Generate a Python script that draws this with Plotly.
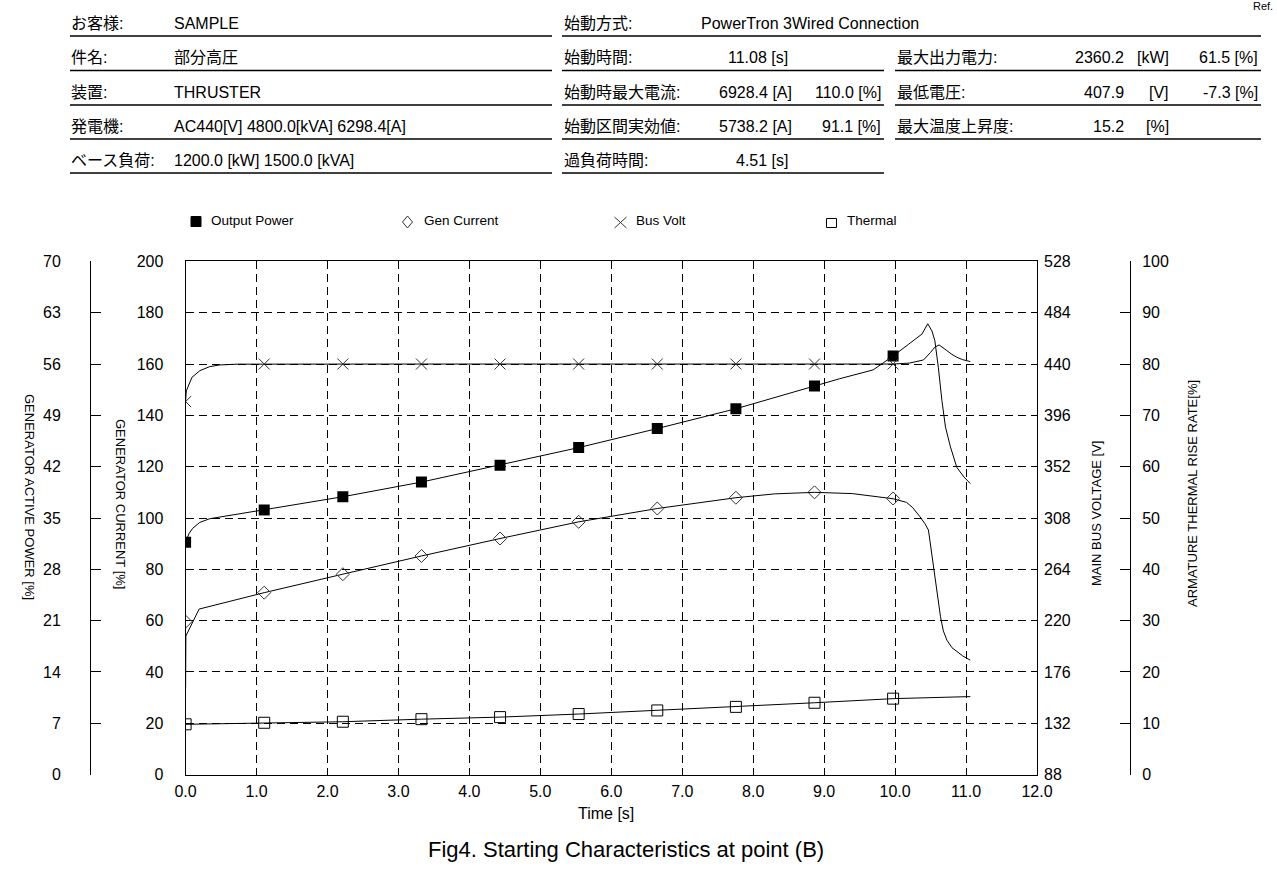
import plotly.graph_objects as go

W, H = 1277, 870
FONT = "Liberation Sans, Arial, Noto Sans CJK JP, sans-serif"

# ---------------- data ----------------
# Output power [%] (left outer axis 0-70)
t_power = [0, 0.05, 0.10, 0.20, 0.34, 1.108, 2.216, 3.324, 4.432, 5.540, 6.648, 7.756, 8.864,
           9.22, 9.69, 9.972, 10.19, 10.38, 10.46, 10.52, 10.56, 10.61, 10.66, 10.71, 10.78,
           10.87, 10.97, 11.06]
power = [31.8, 32.9, 33.6, 34.4, 34.9, 36.1, 37.9, 39.9, 42.2, 44.6, 47.2, 49.9, 53.0,
         54.0, 55.2, 57.1, 58.7, 60.1, 61.5, 60.5, 59.2, 55.5, 51.0, 47.4, 44.7,
         41.9, 40.6, 39.7]

# Generator current [%] (left inner axis 0-200)
t_current = [0, 0.004, 0.19, 1.108, 2.216, 3.324, 4.432, 5.540, 6.648, 7.756, 8.3, 8.864,
             9.4, 9.972, 10.16, 10.25, 10.35, 10.42, 10.47, 10.54, 10.58, 10.64, 10.68,
             10.73, 10.8, 10.87, 10.95, 11.06]
current = [33.7, 54.0, 64.5, 70.9, 78.1, 85.2, 92.0, 98.5, 103.7, 107.9, 109.4, 110.0,
           109.5, 107.5, 106.1, 104.0, 100.5, 97.8, 95.3, 81.0, 72.0, 61.5, 56.0,
           52.4, 49.5, 47.9, 46.3, 44.6]

# Main bus voltage [V] (right inner axis 88-528)
t_volt = [0, 0.01, 0.09, 0.20, 0.34, 0.48, 0.73, 1.108, 2.216, 3.324, 4.432, 5.540, 6.648,
          7.756, 8.864, 9.972, 10.2, 10.4, 10.5, 10.56, 10.62, 10.67, 10.73, 10.8, 10.87,
          10.95, 11.06]
volt = [407.8, 417.0, 428.6, 434.3, 437.8, 439.2, 439.9, 440.0, 440.0, 440.0, 440.0, 440.0,
        440.0, 440.0, 440.0, 440.0, 440.8, 443.5, 450.0, 454.5, 456.4, 454.5, 451.5, 448.3,
        445.8, 443.8, 442.1]

# Armature thermal rise rate [%] (right outer axis 0-100)
t_thermal = [0, 1.108, 2.216, 3.324, 4.432, 5.540, 6.648, 7.756, 8.864, 9.972, 11.06]
thermal = [9.8, 10.1, 10.3, 10.8, 11.2, 11.8, 12.5, 13.2, 14.0, 14.8, 15.2]

# Marker samples
t_markers = [0, 1.108, 2.216, 3.324, 4.432, 5.540, 6.648, 7.756, 8.864, 9.972]
power_markers = [31.7, 36.1, 37.9, 39.9, 42.2, 44.6, 47.2, 49.9, 53.0, 57.1]
current_markers = [59.6, 70.9, 78.1, 85.2, 92.0, 98.5, 103.7, 107.9, 110.0, 107.6]
volt_markers = [407.8, 440.0, 440.0, 440.0, 440.0, 440.0, 440.0, 440.0, 440.0, 440.0]
thermal_markers = [9.8, 10.1, 10.3, 10.8, 11.2, 11.8, 12.5, 13.2, 14.0, 14.8]

legend_names = ["Output Power", "Gen Current", "Bus Volt", "Thermal"]

header_left_labels = ["お客様:", "件名:", "装置:", "発電機:", "ベース負荷:"]
header_left_values = ["SAMPLE", "部分高圧", "THRUSTER", "AC440[V] 4800.0[kVA] 6298.4[A]",
                      "1200.0 [kW] 1500.0 [kVA]"]
header_mid_labels = ["始動方式:", "始動時間:", "始動時最大電流:", "始動区間実効値:", "過負荷時間:"]
header_mid_values1 = ["", "11.08 [s]", "6928.4 [A]", "5738.2 [A]", "4.51 [s]"]
header_mid_values2 = ["", "", "110.0 [%]", "91.1 [%]", ""]
start_method = "PowerTron 3Wired Connection"
header_right_labels = ["最大出力電力:", "最低電圧:", "最大温度上昇度:"]
header_right_values1 = ["2360.2", "407.9", "15.2"]
header_right_units1 = ["[kW]", "[V]", "[%]"]
header_right_values2 = ["61.5 [%]", "-7.3 [%]", ""]

ref_text = "Ref."
x_title = "Time [s]"
fig_title = "Fig4. Starting Characteristics at point (B)"
y_titles = ["GENERATOR ACTIVE POWER [%]", "GENERATOR CURRENT [%]",
            "MAIN BUS VOLTAGE [V]", "ARMATURE THERMAL RISE RATE[%]"]


# ---------------- helpers ----------------
def px(x):
    return x / W


def py(y):
    return 1 - y / H


annotations = []
shapes = []


def txt(x, y, s, anchor="left", size=16, angle=0):
    annotations.append(dict(x=px(x), y=py(y), xref="paper", yref="paper", text=s,
                            showarrow=False, xanchor=anchor, yanchor="middle",
                            textangle=angle, borderpad=0,
                            font=dict(size=size, family=FONT, color="black")))


def hline(x0, x1, y):
    shapes.append(dict(type="line", xref="paper", yref="paper", x0=px(x0), x1=px(x1),
                       y0=py(y), y1=py(y), line=dict(color="black", width=1.3)))


# ---------------- figure ----------------
fig = go.Figure()
LINE = dict(color="black", width=1)

fig.add_trace(go.Scatter(x=t_power, y=power, mode="lines", line=LINE, yaxis="y2",
                         showlegend=False, hoverinfo="skip"))
fig.add_trace(go.Scatter(x=t_markers, y=power_markers, mode="markers", yaxis="y2",
                         marker=dict(symbol="square", size=11, color="black"),
                         showlegend=False))
fig.add_trace(go.Scatter(x=t_current, y=current, mode="lines", line=LINE, yaxis="y",
                         showlegend=False, hoverinfo="skip"))
fig.add_trace(go.Scatter(x=t_markers, y=current_markers, mode="markers", yaxis="y",
                         marker=dict(symbol="diamond-open", size=10, color="#333",
                                     line=dict(width=1, color="#333")),
                         showlegend=False))
fig.add_trace(go.Scatter(x=t_volt, y=volt, mode="lines", line=LINE, yaxis="y3",
                         showlegend=False, hoverinfo="skip"))
fig.add_trace(go.Scatter(x=t_markers, y=volt_markers, mode="markers", yaxis="y3",
                         marker=dict(symbol="x-thin", size=11, color="#333",
                                     line=dict(width=1, color="#333")),
                         showlegend=False))
fig.add_trace(go.Scatter(x=t_thermal, y=thermal, mode="lines", line=LINE, yaxis="y4",
                         showlegend=False, hoverinfo="skip"))
fig.add_trace(go.Scatter(x=t_markers, y=thermal_markers, mode="markers", yaxis="y4",
                         marker=dict(symbol="square-open", size=11, color="black",
                                     line=dict(width=1, color="black")),
                         showlegend=False))

GRID = dict(showgrid=True, gridcolor="black", gridwidth=1, griddash="8px,5px")
TICKF = dict(size=16, family=FONT, color="black")
ydom = [py(774.6), py(261.4)]

fig.update_layout(
    width=W, height=H,
    margin=dict(l=0, r=0, t=0, b=0, pad=0, autoexpand=False),
    paper_bgcolor="white", plot_bgcolor="white",
    showlegend=False,
    xaxis=dict(domain=[px(185.6), px(1037)], range=[0, 12], dtick=1, tick0=0,
               tickformat=".1f", showline=True, linecolor="black", linewidth=1,
               mirror=True, ticks="", zeroline=False, tickfont=TICKF,
               ticklabelstandoff=2, anchor="y", automargin=False, **GRID),
    yaxis=dict(domain=ydom, range=[0, 200], dtick=20, tick0=0, showline=True,
               linecolor="black", linewidth=1, mirror=True, ticks="", zeroline=False,
               tickfont=TICKF, ticklabelstandoff=18, anchor="x", automargin=False, **GRID),
    yaxis2=dict(overlaying="y", anchor="free", position=px(90), side="left",
                range=[0, 70], dtick=7, tick0=0, showgrid=False, showline=True,
                linecolor="black", linewidth=1, ticks="inside", ticklen=10,
                tickcolor="black", zeroline=False, tickfont=TICKF, ticklabelstandoff=26,
                automargin=False),
    yaxis3=dict(overlaying="y", anchor="x", side="right", range=[88, 528], dtick=44,
                tick0=88, showgrid=False, showline=False, ticks="", zeroline=False,
                tickfont=TICKF, ticklabelstandoff=6, automargin=False),
    yaxis4=dict(overlaying="y", anchor="free", position=px(1130), side="right",
                range=[0, 100], dtick=10, tick0=0, showgrid=False, showline=True,
                linecolor="black", linewidth=1, ticks="inside", ticklen=10,
                tickcolor="black", zeroline=False, tickfont=TICKF, ticklabelstandoff=8,
                automargin=False),
)

# ---------------- header table ----------------
row_y = [23.5, 58, 92, 126, 160]
line_y = [36, 70.5, 105, 139, 173]
for i in range(5):
    txt(70, row_y[i], header_left_labels[i])
    txt(173, row_y[i], header_left_values[i])
    hline(70, 552, line_y[i])
    txt(563, row_y[i], header_mid_labels[i])
    if header_mid_values1[i]:
        right_edge = 789 if "[s]" in header_mid_values1[i] else 793
        txt(right_edge, row_y[i], header_mid_values1[i], anchor="right")
    if header_mid_values2[i]:
        txt(882, row_y[i], header_mid_values2[i], anchor="right")
txt(700, row_y[0], start_method)
hline(562, 1261, line_y[0])
for i in range(1, 5):
    hline(562, 884, line_y[i])
for j in range(3):
    r = j + 1
    txt(896, row_y[r], header_right_labels[j])
    txt(1125, row_y[r], header_right_values1[j], anchor="right")
    txt(1170, row_y[r], header_right_units1[j], anchor="right")
    if header_right_values2[j]:
        txt(1259, row_y[r], header_right_values2[j], anchor="right")
    hline(895, 1261, line_y[r])
txt(1274, 6, ref_text, anchor="right", size=11)

# ---------------- legend ----------------
leg_y = 221.5
# filled square
shapes.append(dict(type="rect", xref="paper", yref="paper", x0=px(191), x1=px(201),
                   y0=py(leg_y + 5), y1=py(leg_y - 5), fillcolor="black",
                   line=dict(color="black", width=1)))
# diamond
dx, dy = 407.5, 222
shapes.append(dict(type="path", xref="paper", yref="paper",
                   path=f"M {px(dx)} {py(dy-6)} L {px(dx+5)} {py(dy)} L {px(dx)} {py(dy+6)} "
                        f"L {px(dx-5)} {py(dy)} Z",
                   line=dict(color="#333", width=1)))
# cross
cx, cy = 620.5, 222.5
shapes.append(dict(type="line", xref="paper", yref="paper", x0=px(cx - 6), x1=px(cx + 6),
                   y0=py(cy - 5.5), y1=py(cy + 5.5), line=dict(color="#333", width=1)))
shapes.append(dict(type="line", xref="paper", yref="paper", x0=px(cx - 6), x1=px(cx + 6),
                   y0=py(cy + 5.5), y1=py(cy - 5.5), line=dict(color="#333", width=1)))
# open square
shapes.append(dict(type="rect", xref="paper", yref="paper", x0=px(826.5), x1=px(836.5),
                   y0=py(227.5), y1=py(218.5), line=dict(color="black", width=1)))
for name, lx in zip(legend_names, [210, 423, 635, 846]):
    txt(lx, 220.5, name, size=13.5)

# ---------------- axis titles ----------------
txt(29, 497, y_titles[0], anchor="center", size=13, angle=90)
txt(121, 504, y_titles[1], anchor="center", size=13, angle=90)
txt(1096, 514, y_titles[2], anchor="center", size=13, angle=-90)
txt(1193, 494, y_titles[3], anchor="center", size=13, angle=-90)
txt(606, 813, x_title, anchor="center", size=16)
txt(626, 849, fig_title, anchor="center", size=22)

fig.update_layout(annotations=annotations, shapes=shapes)
fig.write_html("out.html")
